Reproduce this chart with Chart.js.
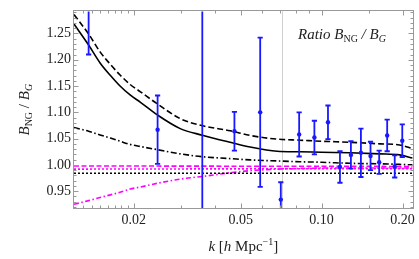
<!DOCTYPE html>
<html><head><meta charset="utf-8">
<script src="https://cdn.jsdelivr.net/npm/chart.js@4/dist/chart.umd.min.js"></script>
<style>html,body{margin:0;padding:0;background:#fff;}#wrap{width:419px;height:259px;position:relative;}</style>
</head><body><div id="wrap"><canvas id="c"></canvas></div>
<script>
// ---- data ----
const kGrid = [0.0120, 0.0136, 0.0150, 0.0164, 0.0178, 0.0194, 0.0212, 0.0245, 0.0298, 0.0360, 0.0457, 0.0542, 0.0683, 0.0831, 0.100, 0.1275, 0.165, 0.195, 0.218];
const solidRatio   = [1.268, 1.228, 1.194, 1.170, 1.150, 1.133, 1.119, 1.095, 1.069, 1.0565, 1.043, 1.034, 1.026, 1.025, 1.024, 1.023, 1.021, 1.019, 1.013];
const dashedRatio  = [1.286, 1.249, 1.215, 1.191, 1.171, 1.153, 1.139, 1.116, 1.088, 1.0745, 1.065, 1.056, 1.049, 1.047, 1.045, 1.043, 1.040, 1.038, 1.031];
const dashDotRatio = [1.071, 1.064, 1.057, 1.051, 1.045, 1.039, 1.035, 1.029, 1.021, 1.0155, 1.012, 1.0095, 1.0075, 1.006, 1.005, 1.003, 1.002, 1.001, 1.000];
const magentaDashDotRatio = [0.925, 0.932, 0.938, 0.943, 0.948, 0.954, 0.958, 0.965, 0.973, 0.978, 0.985, 0.989, 0.992, 0.993, 0.994, 0.994, 0.994, 0.994, 0.994];
const kFlat = [0.0120, 0.218];
const magentaDashedRatio = [0.998, 0.997];
const magentaDottedRatio = [0.992, 0.993];
const blackDottedRatio   = [0.984, 0.984];

const kData     = [0.0136, 0.02455, 0.0360, 0.0474, 0.0591, 0.0705, 0.0825, 0.0940, 0.1056, 0.117, 0.1285, 0.140, 0.152, 0.1637, 0.1753, 0.187, 0.1995];
const ratioData = [1.300, 1.067, 0.880, 1.064, 1.100, 0.934, 1.058, 1.052, 1.081, 0.996, 1.019, 1.023, 1.017, 1.005, 1.056, 0.997, 1.046];
const errData   = [0.090, 0.065, 0.500, 0.037, 0.142, 0.033, 0.042, 0.032, 0.032, 0.030, 0.026, 0.046, 0.027, 0.022, 0.030, 0.021, 0.031];

const refLinesK = [0.0711];

const xMajorTicks = [0.02, 0.05, 0.10, 0.20];
const xTickLabels = ['0.02', '0.05', '0.10', '0.20'];
const xMinorTicks = [0.013, 0.014, 0.015, 0.016, 0.017, 0.018, 0.019, 0.03, 0.04, 0.06, 0.07, 0.08, 0.09, 0.15];
const yMajorTicks = [0.95, 1.00, 1.05, 1.10, 1.15, 1.20, 1.25];
const yTickLabels = ['0.95', '1.00', '1.05', '1.10', '1.15', '1.20', '1.25'];
const yMinorTicks = [0.92,0.93,0.94,0.96,0.97,0.98,0.99,1.01,1.02,1.03,1.04,1.06,1.07,1.08,1.09,1.11,1.12,1.13,1.14,1.16,1.17,1.18,1.19,1.21,1.22,1.23,1.24,1.26,1.27,1.28,1.29];

// ---- helpers ----
const xy = (ks, vs) => ks.map((k, i) => ({x: k, y: vs[i]}));
const BLUE = 'rgb(25,25,255)';
const SERIF = '"Liberation Serif", "DejaVu Serif", serif';

function drawRuns(ctx, runs, x, y, align) {
  let w = 0;
  runs.forEach(r => { ctx.font = r.font; r.w = ctx.measureText(r.t).width; w += r.w; });
  let cx = align === 'center' ? x - w / 2 : x;
  runs.forEach(r => { ctx.font = r.font; ctx.fillText(r.t, cx, y + (r.dy || 0)); cx += r.w; });
}

const deco = {
  id: 'deco',
  beforeDatasetsDraw(chart) {
    const {ctx, chartArea: a, scales: {x}} = chart;
    ctx.save();
    ctx.strokeStyle = '#cfcfcf'; ctx.lineWidth = 1;
    refLinesK.forEach(k => {
      const px = Math.round(x.getPixelForValue(k)) + 0.5;
      ctx.beginPath(); ctx.moveTo(px, a.top); ctx.lineTo(px, a.bottom); ctx.stroke();
    });
    ctx.restore();
  },
  afterDatasetsDraw(chart) {
    const {ctx, chartArea: a, scales: {x, y}} = chart;
    ctx.save();
    ctx.beginPath(); ctx.rect(a.left, a.top, a.right - a.left, a.bottom - a.top); ctx.clip();
    ctx.strokeStyle = BLUE; ctx.lineWidth = 1.8;
    kData.forEach((k, i) => {
      const px = x.getPixelForValue(k);
      const y1 = y.getPixelForValue(ratioData[i] + errData[i]);
      const y2 = y.getPixelForValue(ratioData[i] - errData[i]);
      ctx.beginPath();
      ctx.moveTo(px, y1); ctx.lineTo(px, y2);
      ctx.moveTo(px - 2.6, y1); ctx.lineTo(px + 2.6, y1);
      ctx.moveTo(px - 2.6, y2); ctx.lineTo(px + 2.6, y2);
      ctx.stroke();
    });
    ctx.restore();
  },
  afterDraw(chart) {
    const {ctx, chartArea: a, scales: {x, y}} = chart;
    ctx.save();
    // frame
    ctx.strokeStyle = '#999'; ctx.lineWidth = 1;
    const L = Math.round(a.left) - 0.5, R = Math.round(a.right) + 0.5, T = Math.round(a.top) - 0.5, B = Math.round(a.bottom) + 0.5;
    ctx.strokeRect(L, T, R - L, B - T);
    ctx.beginPath();
    const tick = (v, len, axis) => {
      if (axis === 'x') {
        const p = Math.round(x.getPixelForValue(v)) + 0.5;
        ctx.moveTo(p, B); ctx.lineTo(p, B - len);
        ctx.moveTo(p, T); ctx.lineTo(p, T + len);
      } else {
        const p = Math.round(y.getPixelForValue(v)) + 0.5;
        ctx.moveTo(L, p); ctx.lineTo(L + len, p);
        ctx.moveTo(R, p); ctx.lineTo(R - len, p);
      }
    };
    xMajorTicks.forEach(v => tick(v, 5, 'x'));
    xMinorTicks.forEach(v => tick(v, 3, 'x'));
    yMajorTicks.forEach(v => tick(v, 5, 'y'));
    yMinorTicks.forEach(v => tick(v, 3, 'y'));
    ctx.stroke();

    // titles
    ctx.fillStyle = '#222';
    ctx.textBaseline = 'alphabetic';
    const it = s => 'italic ' + s + 'px ' + SERIF;
    const rm = s => s + 'px ' + SERIF;
    // x title
    drawRuns(ctx, [
      {t: 'k', font: it(15)}, {t: ' [', font: rm(15)}, {t: 'h', font: it(15)},
      {t: ' Mpc', font: rm(15)}, {t: '\u22121', font: rm(10), dy: -6}, {t: ']', font: rm(15)}
    ], (a.left + a.right) / 2, 251, 'center');
    // y title
    ctx.save();
    ctx.translate(29, (a.top + a.bottom) / 2);
    ctx.rotate(-Math.PI / 2);
    drawRuns(ctx, [
      {t: 'B', font: it(15)}, {t: 'NG', font: rm(10), dy: 3}, {t: ' / ', font: rm(15)},
      {t: 'B', font: it(15)}, {t: 'G', font: it(10), dy: 3}
    ], 0, 0, 'center');
    ctx.restore();
    // annotation
    drawRuns(ctx, [
      {t: 'Ratio B', font: it(15)}, {t: 'NG', font: rm(10), dy: 3}, {t: ' / ', font: it(15)},
      {t: 'B', font: it(15)}, {t: 'G', font: it(10), dy: 3}
    ], 298, 39, 'left');
    ctx.restore();
  }
};

const lineDs = (data, color, dash, width, order) => ({
  type: 'line', data, borderColor: color, borderWidth: width, borderDash: dash,
  pointRadius: 0, fill: false, cubicInterpolationMode: 'monotone', order
});

new Chart(document.getElementById('c'), {
  type: 'line',
  data: {
    datasets: [
      {type: 'scatter', data: xy(kData, ratioData), pointRadius: 2.2, pointBackgroundColor: BLUE, pointBorderWidth: 0, showLine: false, order: 0},
      lineDs(xy(kGrid, solidRatio), '#000', [], 1.6, 1),
      lineDs(xy(kGrid, dashedRatio), '#000', [6, 3], 1.6, 2),
      lineDs(xy(kGrid, dashDotRatio), '#000', [6, 2.5, 1.5, 2.5], 1.6, 3),
      lineDs(xy(kFlat, blackDottedRatio), '#000', [2, 2], 1.6, 4),
      lineDs(xy(kFlat, magentaDottedRatio), '#ff00ff', [2, 2], 1.6, 5),
      lineDs(xy(kFlat, magentaDashedRatio), '#ff00ff', [5, 2.5], 1.6, 6),
      lineDs(xy(kGrid, magentaDashDotRatio), '#ff00ff', [5, 2.5, 1.5, 2.5], 1.6, 7)
    ]
  },
  options: {
    responsive: true, maintainAspectRatio: false, animation: false, devicePixelRatio: 1,
    layout: {padding: {top: 5, right: 6, left: 0, bottom: 0}},
    plugins: {legend: {display: false}, tooltip: {enabled: false}},
    scales: {
      x: {
        type: 'logarithmic', min: 0.0120, max: 0.218, position: 'bottom',
        grid: {display: false, drawTicks: false}, border: {display: false},
        afterBuildTicks: s => { s.ticks = xMajorTicks.map(v => ({value: v})); },
        ticks: {font: {family: SERIF, size: 14}, color: '#222', padding: 4, autoSkip: false, maxRotation: 0,
                callback: (v, i) => xTickLabels[i]},
        afterFit: s => { s.height = 51; }
      },
      y: {
        type: 'linear', min: 0.918, max: 1.292, position: 'left',
        grid: {display: false, drawTicks: false}, border: {display: false},
        afterBuildTicks: s => { s.ticks = yMajorTicks.map(v => ({value: v})); },
        ticks: {font: {family: SERIF, size: 14}, color: '#222', padding: 3, autoSkip: false,
                callback: (v, i) => yTickLabels[i]},
        afterFit: s => { s.width = 74; }
      }
    }
  },
  plugins: [deco]
});
</script>
</body></html>
